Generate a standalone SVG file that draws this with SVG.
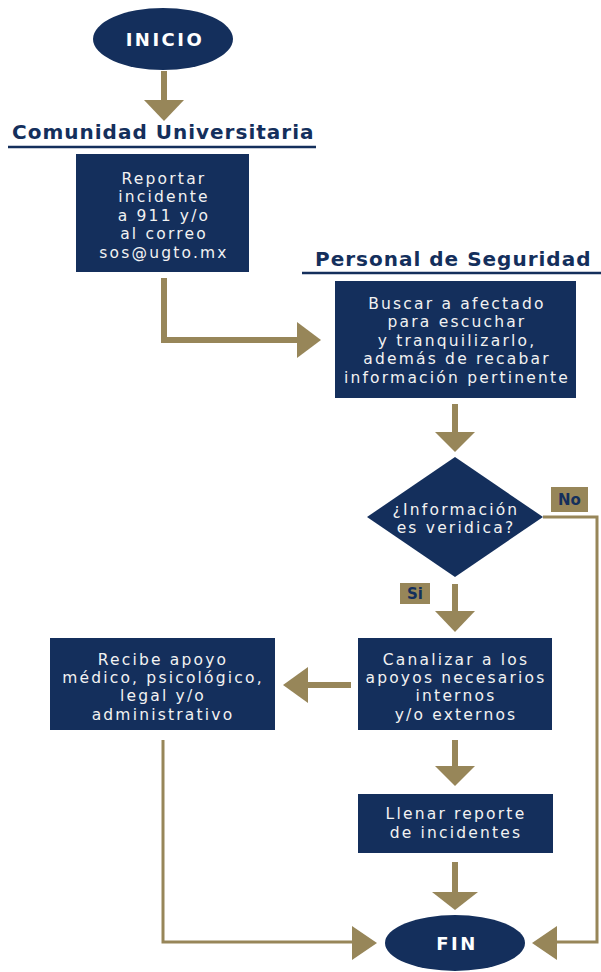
<svg xmlns="http://www.w3.org/2000/svg" width="601" height="972" viewBox="0 0 601 972">
<style>
.node{fill:#142f5c}
.t{font-family:"DejaVu Sans","Open Sans",sans-serif;font-size:15.5px;fill:#f2f2f2;text-anchor:middle;letter-spacing:2.2px}
.term{font-family:"DejaVu Sans","Open Sans",sans-serif;font-size:18px;font-weight:bold;fill:#ffffff;text-anchor:middle;letter-spacing:2.5px}
.title{font-family:"DejaVu Sans","Open Sans",sans-serif;font-size:20px;font-weight:bold;fill:#142f5c;letter-spacing:1px}
.uline{stroke:#142f5c;stroke-width:2.5}
.shaft{stroke:#978659;stroke-width:6;fill:none}
.thin{stroke:#978659;stroke-width:3;fill:none}
.head{fill:#978659}
.lbl{fill:#978659}
.lt{font-family:"DejaVu Sans","Open Sans",sans-serif;font-size:15px;font-weight:bold;fill:#142f5c;text-anchor:middle}
</style>
<rect width="601" height="972" fill="#ffffff"/>

<g id="inicio">
<ellipse class="node" cx="163" cy="39" rx="70" ry="31"/>
<text class="term" x="165" y="46">INICIO</text>
</g>

<g id="title-comunidad">
<text class="title" x="12" y="139">Comunidad Universitaria</text>
<line class="uline" x1="8" y1="147" x2="316" y2="147"/>
</g>

<g id="reportar">
<rect class="node" x="76" y="154" width="173" height="118"/>
<text class="t" x="164" y="184">Reportar</text>
<text class="t" x="164" y="202">incidente</text>
<text class="t" x="164" y="221">a 911 y/o</text>
<text class="t" x="164" y="239">al correo</text>
<text class="t" x="164" y="258">sos@ugto.mx</text>
</g>

<g id="title-personal">
<text class="title" x="315" y="266">Personal de Seguridad</text>
<line class="uline" x1="302" y1="273" x2="601" y2="273"/>
</g>

<g id="buscar">
<rect class="node" x="335" y="281" width="241" height="117"/>
<text class="t" x="457" y="309">Buscar a afectado</text>
<text class="t" x="457" y="327">para escuchar</text>
<text class="t" x="457" y="346">y tranquilizarlo,</text>
<text class="t" x="457" y="364">además de recabar</text>
<text class="t" x="457" y="383">información pertinente</text>
</g>

<g id="decision">
<polygon class="node" points="455,457 543,517 455,577 367,517"/>
<text class="t" x="456" y="515">¿Información</text>
<text class="t" x="456" y="533">es veridica?</text>
</g>

<g id="canalizar">
<rect class="node" x="358" y="638" width="194" height="92"/>
<text class="t" x="456" y="665">Canalizar a los</text>
<text class="t" x="456" y="683">apoyos necesarios</text>
<text class="t" x="456" y="701">internos</text>
<text class="t" x="456" y="720">y/o externos</text>
</g>

<g id="recibe">
<rect class="node" x="50" y="638" width="225" height="92"/>
<text class="t" x="163" y="665">Recibe apoyo</text>
<text class="t" x="163" y="683">médico, psicológico,</text>
<text class="t" x="163" y="701">legal y/o</text>
<text class="t" x="163" y="720">administrativo</text>
</g>

<g id="llenar">
<rect class="node" x="358" y="794" width="195" height="59"/>
<text class="t" x="456" y="819">Llenar reporte</text>
<text class="t" x="456" y="838">de incidentes</text>
</g>

<g id="fin">
<ellipse class="node" cx="455" cy="943" rx="70" ry="28"/>
<text class="term" x="457" y="950">FIN</text>
</g>

<g id="connectors">
<line class="shaft" x1="164" y1="71" x2="164" y2="102"/>
<polygon class="head" points="144,100 184,100 164,121"/>

<path class="shaft" d="M164 278 V340 H299"/>
<polygon class="head" points="297,322 321,340 297,358"/>

<line class="shaft" x1="455" y1="404" x2="455" y2="434"/>
<polygon class="head" points="435,432 475,432 455,452"/>

<line class="shaft" x1="455" y1="584" x2="455" y2="613"/>
<polygon class="head" points="435,611 475,611 455,632"/>

<line class="shaft" x1="351" y1="685" x2="306" y2="685"/>
<polygon class="head" points="308,667 283,685 308,703"/>

<line class="shaft" x1="455" y1="740" x2="455" y2="768"/>
<polygon class="head" points="435,766 475,766 455,786"/>

<line class="shaft" x1="455" y1="862" x2="455" y2="894"/>
<polygon class="head" points="432,892 478,892 455,910"/>

<path class="thin" d="M163 740 V942 H354"/>
<polygon class="head" points="352,926 377,943 352,960"/>

<path class="thin" d="M543 517 H597 V942 H555"/>
<polygon class="head" points="557,926 532,943 557,960"/>

<g id="label-no">
<rect class="lbl" x="551" y="487" width="37" height="25"/>
<text class="lt" x="569.5" y="505">No</text>
</g>
<g id="label-si">
<rect class="lbl" x="400" y="583" width="30" height="21"/>
<text class="lt" x="415" y="599">Si</text>
</g>
</g>
</svg>
